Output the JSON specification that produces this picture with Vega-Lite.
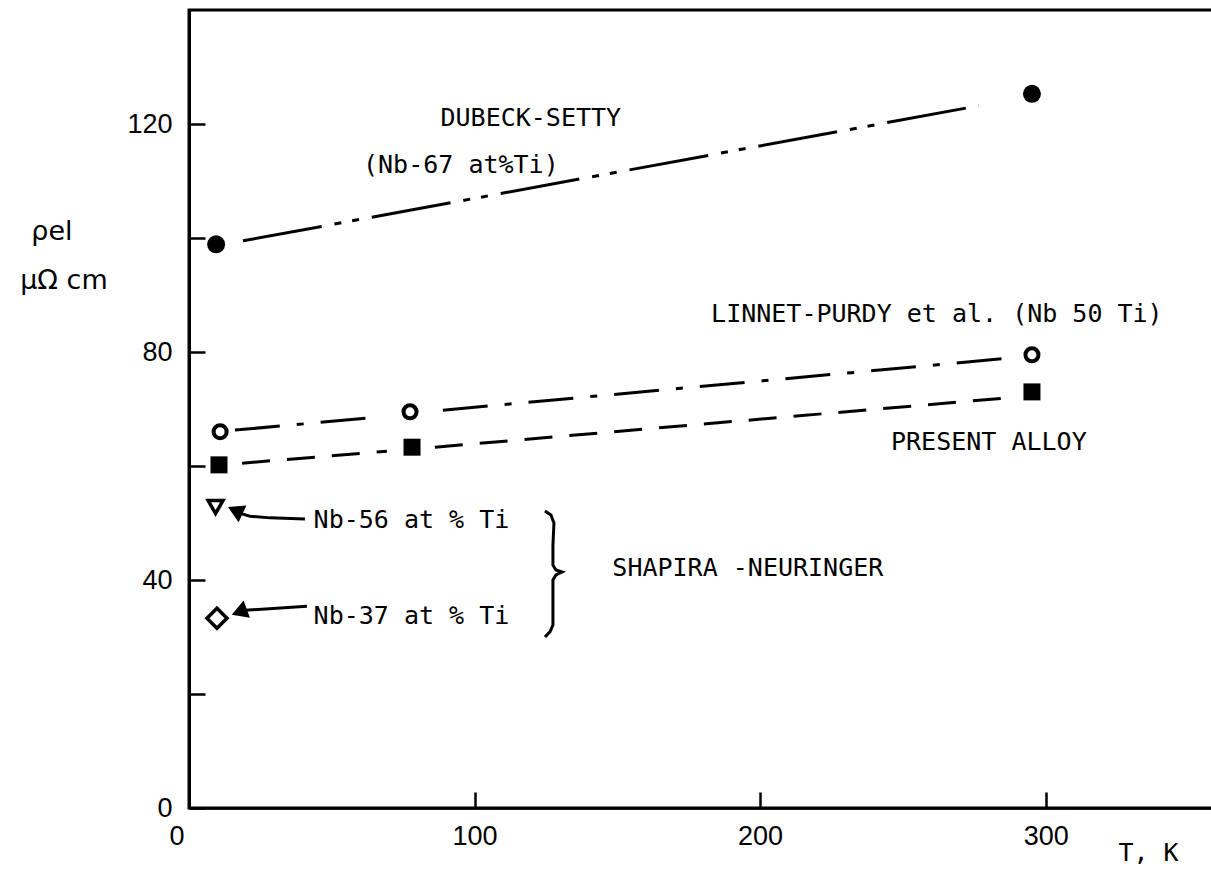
{
  "$schema": "https://vega.github.io/schema/vega-lite/v6.json",
  "width": 1028,
  "height": 798,
  "autosize": {"type": "none"},
  "padding": {"left": 189, "top": 10, "right": 0, "bottom": 66},
  "background": "white",
  "config": {
    "view": {"stroke": "black", "strokeWidth": 3},
    "axis": {"grid": false, "domainColor": "black", "tickColor": "black", "labelColor": "black", "titleColor": "black"}
  },
  "datasets": {
    "points": [
      {"series": "Dubeck", "T": 9.5, "rho": 98.9},
      {"series": "Dubeck", "T": 295.2, "rho": 125.3},
      {"series": "Linnet", "T": 10.9, "rho": 66.0},
      {"series": "Linnet", "T": 77.4, "rho": 69.5},
      {"series": "Linnet", "T": 295.2, "rho": 79.5},
      {"series": "Present", "T": 10.5, "rho": 60.2},
      {"series": "Present", "T": 78.1, "rho": 63.3},
      {"series": "Present", "T": 295.2, "rho": 73.0},
      {"series": "Nb56", "T": 9.3, "rho": 52.8},
      {"series": "Nb37", "T": 9.8, "rho": 33.3}
    ],
    "lines": [
      {"series": "Dubeck", "seg": "d1", "i": 0, "T": 18.9, "rho": 99.5},
      {"series": "Dubeck", "seg": "d1", "i": 1, "T": 276.6, "rho": 123.2},
      {"series": "Linnet", "seg": "l1", "i": 0, "T": 16.1, "rho": 66.3},
      {"series": "Linnet", "seg": "l1", "i": 1, "T": 66.9, "rho": 68.6},
      {"series": "Linnet", "seg": "l2", "i": 0, "T": 88.9, "rho": 69.8},
      {"series": "Linnet", "seg": "l2", "i": 1, "T": 286.8, "rho": 78.9},
      {"series": "Present", "seg": "p1", "i": 0, "T": 18.6, "rho": 60.5},
      {"series": "Present", "seg": "p1", "i": 1, "T": 69.3, "rho": 62.6},
      {"series": "Present", "seg": "p2", "i": 0, "T": 86.1, "rho": 63.3},
      {"series": "Present", "seg": "p2", "i": 1, "T": 289.9, "rho": 72.1},
      {"series": "Note", "seg": "a1", "i": 0, "T": 40.6, "rho": 50.7},
      {"series": "Note", "seg": "a1", "i": 1, "T": 28.4, "rho": 50.9},
      {"series": "Note", "seg": "a1", "i": 2, "T": 21.4, "rho": 51.2},
      {"series": "Note", "seg": "a1", "i": 3, "T": 18.5, "rho": 51.6},
      {"series": "Note", "seg": "a2", "i": 0, "T": 41.3, "rho": 35.4},
      {"series": "Note", "seg": "a2", "i": 1, "T": 19.6, "rho": 34.7},
      {"series": "Note", "seg": "b", "i": 0, "T": 124.65, "rho": 52.1},
      {"series": "Note", "seg": "b", "i": 1, "T": 126.75, "rho": 51.4},
      {"series": "Note", "seg": "b", "i": 2, "T": 127.8, "rho": 50.0},
      {"series": "Note", "seg": "b", "i": 3, "T": 127.45, "rho": 46.1},
      {"series": "Note", "seg": "b", "i": 4, "T": 127.45, "rho": 42.6},
      {"series": "Note", "seg": "b", "i": 5, "T": 128.5, "rho": 41.75},
      {"series": "Note", "seg": "b", "i": 6, "T": 130.6, "rho": 41.4},
      {"series": "Note", "seg": "b", "i": 7, "T": 128.5, "rho": 40.9},
      {"series": "Note", "seg": "b", "i": 8, "T": 127.45, "rho": 40.0},
      {"series": "Note", "seg": "b", "i": 9, "T": 127.45, "rho": 36.5},
      {"series": "Note", "seg": "b", "i": 10, "T": 127.45, "rho": 32.1},
      {"series": "Note", "seg": "b", "i": 11, "T": 126.4, "rho": 30.9},
      {"series": "Note", "seg": "b", "i": 12, "T": 124.65, "rho": 30.0}
    ],
    "heads": [
      {"arrow": "a1", "T": 16.2, "rho": 52.2},
      {"arrow": "a2", "T": 17.6, "rho": 34.4}
    ],
    "labels": [
      {"text": "DUBECK-SETTY", "T": 119.7, "rho": 121.1},
      {"text": "(Nb-67 at%Ti)", "T": 95.2, "rho": 112.8},
      {"text": "LINNET-PURDY et al. (Nb 50 Ti)", "T": 261.9, "rho": 86.7},
      {"text": "PRESENT ALLOY", "T": 280.1, "rho": 64.2},
      {"text": "Nb-56 at % Ti", "T": 77.9, "rho": 50.5},
      {"text": "Nb-37 at % Ti", "T": 77.9, "rho": 33.7},
      {"text": "SHAPIRA -NEURINGER", "T": 195.7, "rho": 42.1}
    ],
    "ytitle": [
      {"text": "ρel", "T": -48.0, "rho": 101.1},
      {"text": "μΩ cm", "T": -43.8, "rho": 92.5}
    ]
  },
  "encoding": {
    "x": {
      "field": "T", "type": "quantitative",
      "scale": {"domain": [0, 360], "nice": false, "zero": false},
      "axis": {
        "values": [0, 100, 200, 300],
        "tickSize": -16, "tickWidth": 2.5, "domainWidth": 2.5,
        "labelFont": "Liberation Sans", "labelFontSize": 27, "labelPadding": 31,
        "labelOverlap": false, "labelFlush": false,
        "labelAlign": {"condition": {"test": "datum.value == 0", "value": "right"}, "value": "center"},
        "labelOffset": {"condition": {"test": "datum.value == 0", "value": -5}, "value": 0},
        "title": "T, K", "titleX": 959, "titleY": 44,
        "titleFont": "DejaVu Sans Mono", "titleFontSize": 25, "titleFontWeight": "normal",
        "titleBaseline": "middle", "titleAlign": "center"
      }
    },
    "y": {
      "field": "rho", "type": "quantitative",
      "scale": {"domain": [0, 140], "nice": false, "zero": false},
      "axis": {
        "values": [0, 20, 40, 60, 80, 100, 120],
        "labelExpr": "datum.value % 40 == 0 ? datum.label : ''",
        "tickSize": -16, "tickWidth": 2.5, "domainWidth": 3,
        "labelFont": "Liberation Sans", "labelFontSize": 27, "labelPadding": 33,
        "labelOverlap": false, "labelFlush": false,
        "title": null
      }
    }
  },
  "layer": [
    {
      "data": {"name": "lines"},
      "transform": [{"filter": "datum.series == 'Dubeck'"}],
      "mark": {"type": "line", "color": "black", "strokeWidth": 3, "strokeDash": [80, 13, 7, 11, 7, 13]},
      "encoding": {"detail": {"field": "seg"}, "order": {"field": "i"}}
    },
    {
      "data": {"name": "lines"},
      "transform": [{"filter": "datum.series == 'Linnet'"}],
      "mark": {"type": "line", "color": "black", "strokeWidth": 3, "strokeDash": [45, 17, 7, 17]},
      "encoding": {"detail": {"field": "seg"}, "order": {"field": "i"}}
    },
    {
      "data": {"name": "lines"},
      "transform": [{"filter": "datum.series == 'Present'"}],
      "mark": {"type": "line", "color": "black", "strokeWidth": 3, "strokeDash": [28, 17]},
      "encoding": {"detail": {"field": "seg"}, "order": {"field": "i"}}
    },
    {
      "data": {"name": "lines"},
      "transform": [{"filter": "datum.series == 'Note'"}],
      "mark": {"type": "line", "color": "black", "strokeWidth": 3},
      "encoding": {"detail": {"field": "seg"}, "order": {"field": "i"}}
    },
    {
      "data": {"name": "heads"},
      "transform": [{"filter": "datum.arrow == 'a1'"}],
      "mark": {"type": "point", "shape": "triangle-left", "filled": true, "color": "black", "size": 340, "angle": 25, "opacity": 1}
    },
    {
      "data": {"name": "heads"},
      "transform": [{"filter": "datum.arrow == 'a2'"}],
      "mark": {"type": "point", "shape": "triangle-left", "filled": true, "color": "black", "size": 340, "angle": 340, "opacity": 1}
    },
    {
      "data": {"name": "points"},
      "transform": [{"filter": "datum.series == 'Dubeck'"}],
      "mark": {"type": "point", "shape": "circle", "filled": true, "color": "black", "size": 324, "opacity": 1}
    },
    {
      "data": {"name": "points"},
      "transform": [{"filter": "datum.series == 'Linnet'"}],
      "mark": {"type": "point", "shape": "circle", "filled": true, "fill": "white", "stroke": "black", "strokeWidth": 4, "size": 170, "opacity": 1}
    },
    {
      "data": {"name": "points"},
      "transform": [{"filter": "datum.series == 'Present'"}],
      "mark": {"type": "point", "shape": "square", "filled": true, "color": "black", "size": 289, "opacity": 1}
    },
    {
      "data": {"name": "points"},
      "transform": [{"filter": "datum.series == 'Nb56'"}],
      "mark": {"type": "point", "shape": "triangle-down", "filled": true, "fill": "white", "stroke": "black", "strokeWidth": 3.5, "size": 220, "opacity": 1}
    },
    {
      "data": {"name": "points"},
      "transform": [{"filter": "datum.series == 'Nb37'"}],
      "mark": {"type": "point", "shape": "diamond", "filled": true, "fill": "white", "stroke": "black", "strokeWidth": 3.5, "size": 400, "opacity": 1}
    },
    {
      "data": {"name": "labels"},
      "mark": {"type": "text", "font": "DejaVu Sans Mono", "fontSize": 25, "color": "black", "align": "center", "baseline": "middle"},
      "encoding": {"text": {"field": "text"}}
    },
    {
      "data": {"name": "ytitle"},
      "mark": {"type": "text", "font": "DejaVu Sans", "fontSize": 27, "color": "black", "align": "center", "baseline": "middle"},
      "encoding": {"text": {"field": "text"}}
    }
  ]
}
